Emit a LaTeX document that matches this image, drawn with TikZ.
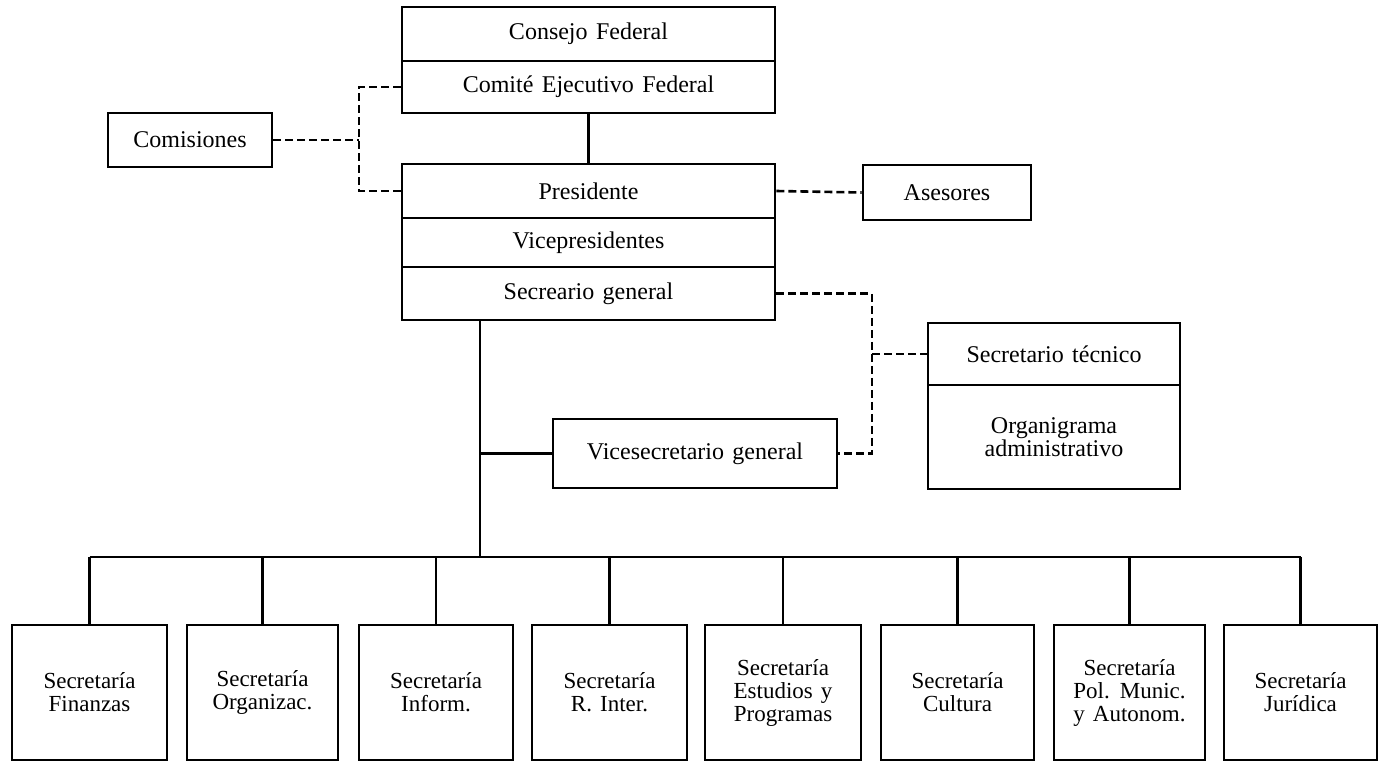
\documentclass[tikz,border=0pt]{standalone}
\usepackage{fontspec}
\setmainfont[WordSpace={1.4,1,1}]{Liberation Serif}
\begin{document}
\begin{tikzpicture}[x=1pt,y=-1pt,
  box/.style={draw, line width=2.8pt, inner sep=0pt, align=center, font=\fontsize{24}{23}\selectfont},
  sbox/.style={box, font=\fontsize{23}{23}\selectfont},
  conn/.style={line width=2.4pt},
  dconn/.style={line width=2.6pt, dash pattern=on 8pt off 4pt}]
\useasboundingbox (0,0) rectangle (1380,763);
% top block
\node[box, minimum width=373pt, minimum height=54pt] (consejo) at (588.5,34) {Consejo Federal};
\node[box, minimum width=373pt, minimum height=52pt] (comite) at (588.5,87) {Comité Ejecutivo Federal};
\node[box, minimum width=164pt, minimum height=54pt] (comis) at (190,140) {Comisiones};
% president block
\node[box, minimum width=373pt, minimum height=54pt] (pres) at (588.5,191) {Presidente};
\node[box, minimum width=373pt, minimum height=49pt] (vice) at (588.5,242.5) {Vicepresidentes};
\node[box, minimum width=373pt, minimum height=53pt] (secg) at (588.5,293.5) {Secreario general};
\node[box, minimum width=168pt, minimum height=55pt] (ases) at (947,192.5) {Asesores};
% technical
\node[box, minimum width=252pt, minimum height=62pt] (sectec) at (1054,354) {Secretario técnico};
\node[box, minimum width=252pt, minimum height=104pt] (org) at (1054,437) {Organigrama\\administrativo};
\node[box, minimum width=284pt, minimum height=69pt] (vices) at (695,453.5) {Vicesecretario general};
% bottom row
\node[sbox, minimum width=155pt, minimum height=135pt] (b1) at (89.5,692.5) {Secretaría\\Finanzas};
\node[sbox, minimum width=151pt, minimum height=135pt] (b2) at (262.5,692.5) {Secretaría\\Organizac.};
\node[sbox, minimum width=154pt, minimum height=135pt] (b3) at (436,692.5) {Secretaría\\Inform.};
\node[sbox, minimum width=155pt, minimum height=135pt] (b4) at (609.5,692.5) {Secretaría\\R. Inter.};
\node[sbox, minimum width=156pt, minimum height=135pt] (b5) at (783,692.5) {Secretaría\\Estudios y\\Programas};
\node[sbox, minimum width=153pt, minimum height=135pt] (b6) at (957.5,692.5) {Secretaría\\Cultura};
\node[sbox, minimum width=151pt, minimum height=135pt] (b7) at (1129.5,692.5) {Secretaría\\Pol. Munic.\\y Autonom.};
\node[sbox, minimum width=153pt, minimum height=135pt] (b8) at (1300.5,692.5) {Secretaría\\Jurídica};
% helper coordinates
\coordinate (bx) at (359,0);
\coordinate (rx) at (872,0);
\coordinate (mx) at (480,0);
\coordinate (bus) at (0,557);
% solid connectors
\draw[conn] (comite.south) -- (pres.north);
\draw[conn] (secg.south -| mx) -- (bus -| mx);
\draw[conn] (vices.west -| mx) -- (vices.west);
\draw[conn] (b1.north |- bus) -- (b8.north |- bus);
\foreach \b in {b1,b2,b3,b4,b5,b6,b7,b8}{
  \draw[conn] (\b.north |- bus) -- (\b.north);
}
% dashed connectors
\draw[dconn] (comite.west) -- (comite.west -| bx) -- (pres.west -| bx) -- (pres.west);
\draw[dconn] (comis.east) -- (comis.east -| bx);
\draw[dconn] (pres.east) -- (ases.west);
\draw[dconn] (secg.east) -- (secg.east -| rx) -- (vices.east -| rx) -- (vices.east);
\draw[dconn] (sectec.west -| rx) -- (sectec.west);
\end{tikzpicture}
\end{document}
